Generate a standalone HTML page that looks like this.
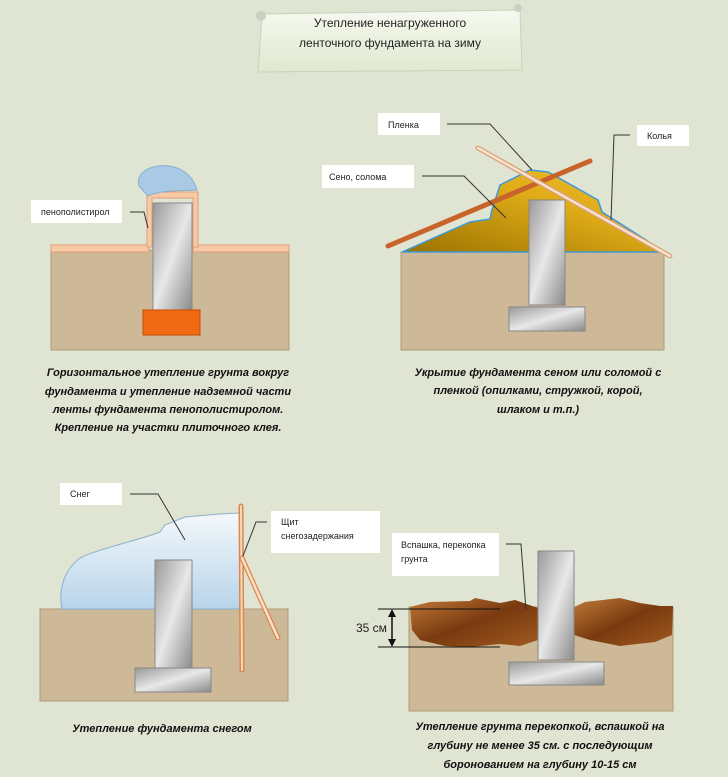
<!DOCTYPE html>
<html><head><meta charset="utf-8"><style>
html,body{margin:0;padding:0;background:#dfe5d2;}
svg{display:block;}
text{font-family:"Liberation Sans","DejaVu Sans",sans-serif;}
.lb{font-size:9px;fill:#222;}
.cap{font-size:11px;font-style:italic;font-weight:bold;fill:#111;}
</style></head><body>
<svg width="728" height="777" viewBox="0 0 728 777" xmlns="http://www.w3.org/2000/svg">
<defs>
<linearGradient id="con" x1="0" y1="0" x2="1" y2="1"><stop offset="0" stop-color="#9a9a9a"/><stop offset="0.5" stop-color="#e8e8e8"/><stop offset="1" stop-color="#8a8a8a"/></linearGradient>
<linearGradient id="hay" x1="0" y1="1" x2="1" y2="0"><stop offset="0" stop-color="#9a7200"/><stop offset="0.6" stop-color="#e0ac18"/><stop offset="1" stop-color="#f0c030"/></linearGradient>
<linearGradient id="snow" x1="0" y1="0" x2="0" y2="1"><stop offset="0" stop-color="#f4f8fb"/><stop offset="1" stop-color="#b8d4ea"/></linearGradient>
<linearGradient id="dirt" x1="0" y1="0" x2="1" y2="1"><stop offset="0" stop-color="#c07a38"/><stop offset="0.5" stop-color="#7a3a10"/><stop offset="1" stop-color="#a05a20"/></linearGradient>
<linearGradient id="scroll" x1="0" y1="0" x2="0" y2="1"><stop offset="0" stop-color="#f6f9ef"/><stop offset="1" stop-color="#dfe8d0"/></linearGradient>
</defs>
<!-- title -->
<path d="M262 14 L520 10 L522 70 L258 72 Z" fill="url(#scroll)" stroke="#c8d0bc"/>
<circle cx="261" cy="16" r="5" fill="#c9d1c0"/><circle cx="518" cy="8" r="4" fill="#c9d1c0"/>
<text x="390" y="27" font-size="12" text-anchor="middle" fill="#222">Утепление ненагруженного</text>
<text x="390" y="47" font-size="12" text-anchor="middle" fill="#222">ленточного фундамента на зиму</text>

<!-- panel 1 -->
<rect x="51" y="250" width="238" height="100" fill="#cdb998" stroke="#b09a7a"/>
<rect x="51" y="245" width="98" height="7" fill="#f7c9a4" stroke="#dba07a"/>
<rect x="193" y="245" width="96" height="7" fill="#f7c9a4" stroke="#dba07a"/>
<path d="M147 247 V192 H198 V247 H193 V198 H152 V247 Z" fill="#f7c9a4" stroke="#dba07a"/>
<rect x="153" y="203" width="39" height="107" fill="url(#con)" stroke="#888"/>
<rect x="143" y="310" width="57" height="25" fill="#f06a14" stroke="#c84a00"/>
<path d="M139 186 C136 176 144 168 158 166 C176 164 192 172 197 190 C180 191 160 190 148 196 Z" fill="#a9c9e4" stroke="#8ab0d0"/>
<rect x="31" y="200" width="91" height="23" fill="#fff"/>
<text x="41" y="215" class="lb">пенополистирол</text>
<path d="M130 212 H144 L148 228" fill="none" stroke="#333"/>
<text x="168" y="376" class="cap" text-anchor="middle">Горизонтальное утепление грунта вокруг</text>
<text x="168" y="395" class="cap" text-anchor="middle">фундамента и утепление надземной части</text>
<text x="168" y="413" class="cap" text-anchor="middle">ленты фундамента пенополистиролом.</text>
<text x="168" y="431" class="cap" text-anchor="middle">Крепление на участки плиточного клея.</text>

<!-- panel 2 -->
<rect x="401" y="252" width="263" height="98" fill="#cdb998" stroke="#b09a7a"/>
<path d="M402 252 L470 222 L490 219 L492 210 L500 185 L530 170 L548 172 L566 182 L598 200 L602 212 L646 240 L656 248 L664 252 Z" fill="url(#hay)" stroke="#3a9ad8" stroke-width="1.5"/>
<rect x="529" y="200" width="36" height="105" fill="url(#con)" stroke="#888"/>
<rect x="509" y="307" width="76" height="24" fill="url(#con)" stroke="#888"/>
<line x1="388" y1="246" x2="590" y2="161" stroke="#c8642a" stroke-width="5" stroke-linecap="round"/>
<line x1="478" y1="148" x2="670" y2="256" stroke="#d8a078" stroke-width="5" stroke-linecap="round"/>
<line x1="478" y1="148" x2="670" y2="256" stroke="#fae2cc" stroke-width="2.5" stroke-linecap="round"/>
<rect x="378" y="113" width="62" height="22" fill="#fff"/>
<text x="388" y="128" class="lb">Пленка</text>
<path d="M447 124 H490 L532 170" fill="none" stroke="#333"/>
<rect x="637" y="125" width="52" height="21" fill="#fff"/>
<text x="647" y="139" class="lb">Колья</text>
<path d="M630 135 H614 L611 220" fill="none" stroke="#333"/>
<rect x="322" y="165" width="92" height="23" fill="#fff"/>
<text x="329" y="180" class="lb">Сено, солома</text>
<path d="M422 176 H464 L506 218" fill="none" stroke="#333"/>
<text x="538" y="376" class="cap" text-anchor="middle">Укрытие фундамента сеном или соломой с</text>
<text x="538" y="394" class="cap" text-anchor="middle">пленкой (опилками, стружкой, корой,</text>
<text x="538" y="413" class="cap" text-anchor="middle">шлаком и т.п.)</text>

<!-- panel 3 -->
<rect x="40" y="609" width="248" height="92" fill="#cdb998" stroke="#b09a7a"/>
<path d="M62 609 C58 590 64 570 80 558 C100 548 140 540 160 532 L165 525 L185 517 L220 514 L240 513 L240 609 Z" fill="url(#snow)" stroke="#8ab0d0"/>
<rect x="155" y="560" width="37" height="110" fill="url(#con)" stroke="#888"/>
<rect x="135" y="668" width="76" height="24" fill="url(#con)" stroke="#888"/>
<line x1="241" y1="506" x2="242" y2="670" stroke="#d88850" stroke-width="5" stroke-linecap="round"/>
<line x1="241" y1="506" x2="242" y2="670" stroke="#fbd8b8" stroke-width="2" stroke-linecap="round"/>
<line x1="242" y1="558" x2="278" y2="638" stroke="#d88850" stroke-width="5" stroke-linecap="round"/>
<line x1="242" y1="558" x2="278" y2="638" stroke="#fbe0c8" stroke-width="2.5" stroke-linecap="round"/>
<rect x="60" y="483" width="62" height="22" fill="#fff"/>
<text x="70" y="497" class="lb">Снег</text>
<path d="M130 494 H158 L185 540" fill="none" stroke="#333"/>
<rect x="271" y="511" width="109" height="42" fill="#fff"/>
<text x="281" y="525" class="lb">Щит</text>
<text x="281" y="539" class="lb">снегозадержания</text>
<path d="M267 522 H256 L243 556" fill="none" stroke="#333"/>
<text x="162" y="732" class="cap" text-anchor="middle">Утепление фундамента снегом</text>

<!-- panel 4 -->
<rect x="409" y="607" width="264" height="104" fill="#cdb998" stroke="#b09a7a"/>
<path d="M410 607 L430 602 L470 601 L475 598 L500 603 L515 600 L538 608 L538 640 L520 646 L500 644 L470 647 L445 646 L420 640 L412 630 Z" fill="url(#dirt)"/>
<path d="M574 607 L585 602 L620 598 L640 603 L660 606 L673 606 L672 635 L655 642 L620 646 L590 640 L574 635 Z" fill="url(#dirt)"/>
<rect x="538" y="551" width="36" height="109" fill="url(#con)" stroke="#888"/>
<rect x="509" y="662" width="95" height="23" fill="url(#con)" stroke="#888"/>
<line x1="378" y1="609" x2="500" y2="609" stroke="#111"/>
<line x1="378" y1="647" x2="500" y2="647" stroke="#111"/>
<line x1="392" y1="613" x2="392" y2="643" stroke="#111" stroke-width="1.5"/>
<path d="M388 617 L392 609 L396 617 Z M388 639 L392 647 L396 639 Z" fill="#111"/>
<text x="356" y="632" font-size="12" fill="#222">35 см</text>
<rect x="392" y="533" width="107" height="43" fill="#fff"/>
<text x="401" y="548" class="lb">Вспашка, перекопка</text>
<text x="401" y="562" class="lb">грунта</text>
<path d="M506 544 H521 L526 610" fill="none" stroke="#333"/>
<text x="540" y="730" class="cap" text-anchor="middle">Утепление грунта перекопкой, вспашкой на</text>
<text x="540" y="749" class="cap" text-anchor="middle">глубину не менее 35 см. с последующим</text>
<text x="540" y="768" class="cap" text-anchor="middle">боронованием на глубину 10-15 см</text>
</svg>
</body></html>
